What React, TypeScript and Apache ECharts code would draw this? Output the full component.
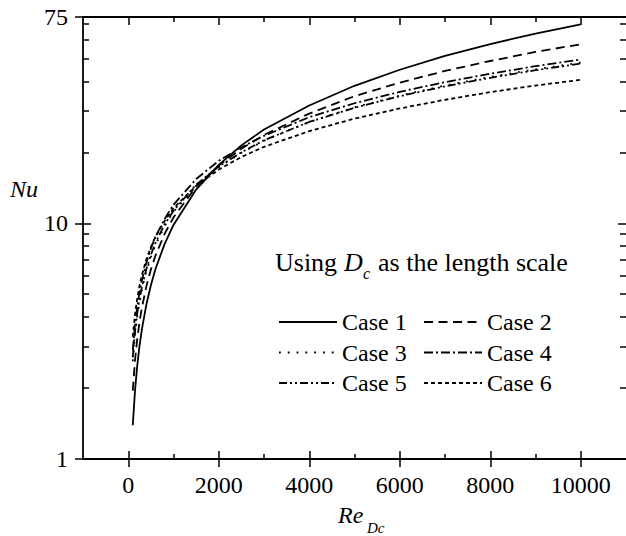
import React, { useEffect, useRef } from 'react';
import * as echarts from 'echarts';

const reValues = [100, 150, 200, 250, 300, 400, 500, 600, 800, 1000, 1500, 2000, 2500, 3000, 4000, 5000, 6000, 7000, 8000, 9000, 10000];
const case1 = [1.39, 1.96, 2.5, 3.03, 3.54, 4.52, 5.46, 6.38, 8.14, 9.84, 13.9, 17.7, 21.4, 25.0, 31.6, 38.3, 44.8, 51.3, 57.6, 63.8, 69.8];
const case2 = [1.95, 2.63, 3.25, 3.82, 4.37, 5.4, 6.36, 7.28, 8.99, 10.6, 14.3, 17.6, 20.7, 23.7, 29.2, 34.6, 39.5, 44.3, 48.8, 53.3, 57.5];
const case3 = [2.6, 3.36, 4.03, 4.64, 5.21, 6.25, 7.2, 8.08, 9.7, 11.2, 14.4, 17.3, 19.9, 22.4, 26.9, 31.0, 34.8, 38.4, 41.8, 45.0, 48.0];
const case4 = [2.9, 3.72, 4.45, 5.1, 5.7, 6.82, 7.81, 8.75, 10.4, 12.0, 15.4, 18.4, 21.0, 23.5, 28.2, 32.3, 36.1, 39.7, 43.1, 46.4, 49.5];
const case5 = [2.7, 3.48, 4.16, 4.78, 5.35, 6.4, 7.35, 8.24, 9.86, 11.3, 14.6, 17.4, 20.0, 22.5, 26.9, 30.9, 34.6, 38.1, 41.4, 44.6, 47.6];
const case6 = [3.3, 4.12, 4.81, 5.44, 6.01, 7.03, 7.93, 8.76, 10.2, 11.6, 14.4, 16.9, 19.1, 21.1, 24.6, 27.8, 30.7, 33.4, 36.0, 38.4, 40.6];

const seriesNames = ['Case 1', 'Case 2', 'Case 3', 'Case 4', 'Case 5', 'Case 6'];
const seriesValues = [case1, case2, case3, case4, case5, case6];
const seriesDash: any[] = ['solid', [9, 5.5], [1.8, 7], [9, 3, 2, 3], [8, 3, 2, 3, 2, 3], [4, 3]];

const xMajorTicks = [0, 2000, 4000, 6000, 8000, 10000];
const xMinorTicks = [1000, 3000, 5000, 7000, 9000];
const yMajorTicks = [1, 10, 75];
const yInnerMajorTicks = [10];
const yMinorTicks = [2, 3, 4, 5, 6, 7, 8, 9, 20, 30, 40, 50, 60, 70];

const FAMILY = 'Liberation Serif';
const BLACK = '#000';

export default function App() {
  const ref = useRef<HTMLDivElement>(null);
  useEffect(() => {
    const chart = echarts.init(ref.current!, null, { renderer: 'svg' });
    const lg = (v: number) => Math.log10(v);
    const yTop = lg(75);
    const tickStyle = { color: BLACK, width: 1.5 };
    const hiddenLine = { show: false, onZero: false };
    const shownLine = { show: true, onZero: false, lineStyle: { color: BLACK, width: 1.8 } };

    const xBase = (extra: any) => ({
      type: 'value', min: -1000, max: 11000,
      splitLine: { show: false }, axisLine: hiddenLine, axisLabel: { show: false }, axisTick: { show: false },
      ...extra,
    });
    const yVal = (extra: any) => ({
      type: 'value', min: 0, max: yTop,
      splitLine: { show: false }, axisLine: hiddenLine, axisLabel: { show: false }, axisTick: { show: false },
      ...extra,
    });

    const xAxis = [
      xBase({
        position: 'bottom',
        axisLine: shownLine,
        axisLabel: {
          show: true, customValues: xMajorTicks, formatter: (v: number) => String(v),
          margin: 14, color: BLACK, fontSize: 24, fontFamily: FAMILY,
        },
        axisTick: { show: true, customValues: xMajorTicks, inside: false, length: 8, lineStyle: tickStyle },
      }),
      xBase({ position: 'bottom', axisTick: { show: true, customValues: xMajorTicks, inside: true, length: 8, lineStyle: tickStyle } }),
      xBase({ position: 'bottom', axisTick: { show: true, customValues: xMinorTicks, inside: true, length: 5, lineStyle: tickStyle } }),
      xBase({ position: 'top', axisLine: shownLine, axisTick: { show: true, customValues: xMajorTicks, inside: true, length: 8, lineStyle: tickStyle } }),
      xBase({ position: 'top', axisTick: { show: true, customValues: xMinorTicks, inside: true, length: 5, lineStyle: tickStyle } }),
    ];

    const yAxis = [
      {
        type: 'log', logBase: 10, min: 1, max: 75, position: 'left',
        splitLine: { show: false }, axisLine: shownLine, axisLabel: { show: false }, axisTick: { show: false },
      },
      yVal({
        position: 'left',
        axisLabel: {
          show: true, customValues: yMajorTicks.map(lg),
          formatter: (v: number) => String(Math.round(Math.pow(10, v))),
          margin: 15, color: BLACK, fontSize: 24, fontFamily: FAMILY,
        },
        axisTick: { show: true, customValues: yMajorTicks.map(lg), inside: false, length: 8, lineStyle: tickStyle },
      }),
      yVal({ position: 'left', axisTick: { show: true, customValues: yInnerMajorTicks.map(lg), inside: true, length: 8, lineStyle: tickStyle } }),
      yVal({ position: 'left', axisTick: { show: true, customValues: yMinorTicks.map(lg), inside: true, length: 6, lineStyle: tickStyle } }),
      yVal({ position: 'right', axisTick: { show: true, customValues: yInnerMajorTicks.map(lg), inside: true, length: 8, lineStyle: tickStyle } }),
      yVal({ position: 'right', axisTick: { show: true, customValues: yMinorTicks.map(lg), inside: true, length: 6, lineStyle: tickStyle } }),
    ];

    const series = seriesNames.map((name, i) => ({
      name, type: 'line', xAxisIndex: 0, yAxisIndex: 0,
      data: reValues.map((r, j) => [r, seriesValues[i][j]]),
      symbol: 'none', showSymbol: false, smooth: false,
      lineStyle: { color: BLACK, width: 1.8, type: seriesDash[i] },
      itemStyle: { color: BLACK },
      emphasis: { disabled: true },
    }));

    const legendBase = {
      orient: 'vertical', top: 310, itemWidth: 58, itemHeight: 14, itemGap: 6.5, padding: 0,
      selectedMode: false, itemStyle: { opacity: 0 },
      textStyle: { color: BLACK, fontSize: 24, fontFamily: FAMILY },
    };

    const txt = (text: string, font: string) => ({
      text, fill: BLACK, font, align: 'left', verticalAlign: 'middle',
    });

    chart.setOption({
      animation: false,
      backgroundColor: '#fff',
      grid: { left: 83, right: 0, top: 17, bottom: 77, containLabel: false, outerBoundsMode: 'none' },
      xAxis, yAxis, series,
      legend: [
        { ...legendBase, left: 278, data: ['Case 1', 'Case 3', 'Case 5'] },
        { ...legendBase, left: 423, data: ['Case 2', 'Case 4', 'Case 6'] },
      ],
      graphic: [
        { type: 'text', x: 10, y: 189, style: txt('Nu', 'italic 24px Liberation Serif') },
        { type: 'text', x: 338, y: 515, style: txt('Re', 'italic 24px Liberation Serif') },
        { type: 'text', x: 367, y: 528, style: txt('Dc', 'italic 15px Liberation Serif') },
        { type: 'text', x: 275, y: 262, style: txt('Using', '26px Liberation Serif') },
        { type: 'text', x: 344, y: 262, style: txt('D', 'italic 26px Liberation Serif') },
        { type: 'text', x: 363, y: 273, style: txt('c', 'italic 16px Liberation Serif') },
        { type: 'text', x: 378, y: 262, style: txt('as the length scale', '26px Liberation Serif') },
      ],
    });
    return () => chart.dispose();
  }, []);
  return (
    <div ref={ref} style={{ position: 'fixed', left: 0, top: 0, width: 626, height: 536, background: '#fff' }} />
  );
}
